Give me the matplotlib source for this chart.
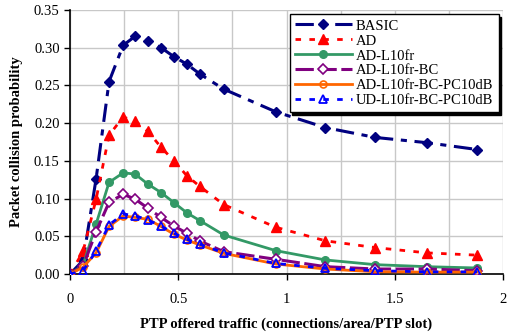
import matplotlib.pyplot as plt
import numpy as np

plt.rcParams['font.family'] = ['Liberation Serif', 'DejaVu Serif']

traffic = [0, 0.06, 0.12, 0.18, 0.245, 0.30, 0.36, 0.42, 0.48, 0.54, 0.60,
           0.71, 0.95, 1.18, 1.41, 1.65, 1.88]

basic = [0, 0.018, 0.126, 0.255, 0.303, 0.315, 0.309, 0.300, 0.288, 0.278,
         0.265, 0.245, 0.215, 0.194, 0.181, 0.174, 0.165]
ad = [0, 0.03, 0.099, 0.184, 0.208, 0.203, 0.189, 0.168, 0.150, 0.130,
      0.116, 0.092, 0.062, 0.044, 0.035, 0.028, 0.025]
ad_l10 = [0, 0.012, 0.066, 0.1215, 0.134, 0.1325, 0.119, 0.108, 0.0945,
          0.081, 0.0707, 0.0517, 0.031, 0.0186, 0.0124, 0.0097, 0.008]
ad_l10_bc = [0, 0.0106, 0.056, 0.095, 0.1056, 0.0994, 0.087, 0.075, 0.0636,
             0.054, 0.0437, 0.0296, 0.0195, 0.0097, 0.0066, 0.0066, 0.0044]
ad_l10_bc_pc = [0, 0.009, 0.028, 0.063, 0.077, 0.075, 0.0725, 0.063, 0.0527,
                0.045, 0.0385, 0.0274, 0.0133, 0.0066, 0.003, 0.0025, 0.0025]
ud_l10_bc_pc = [0, 0.0044, 0.0305, 0.065, 0.0795, 0.0773, 0.0716, 0.0636,
                0.054, 0.046, 0.0394, 0.028, 0.014, 0.0075, 0.0044, 0.0028, 0.0028]

fig = plt.figure(figsize=(5.08, 3.36), dpi=100)
ax = fig.add_axes([0.138, 0.1845, 0.852, 0.786])

ax.plot(traffic, basic, color='#000080', lw=2.2, dashes=(6, 2.5, 2, 2.5),
        marker='D', ms=5.5, label='BASIC', zorder=3)
ax.plot(traffic, ad, color='#FF0000', lw=2, dashes=(2, 3),
        marker='^', ms=6.5, label='AD', zorder=3)
ax.plot(traffic, ad_l10, color='#339966', lw=2, marker='o', ms=5.5,
        label='AD-L10fr', zorder=3)
ax.plot(traffic, ad_l10_bc, color='#800080', lw=2.2, dashes=(6, 1.5),
        marker='D', ms=5, mfc='white', mew=1.2, label='AD-L10fr-BC', zorder=3)
ax.plot(traffic, ad_l10_bc_pc, color='#FF6600', lw=2, marker='o', ms=5,
        mfc='none', mew=1.2, label='AD-L10fr-BC-PC10dB', zorder=3)
ax.plot(traffic, ud_l10_bc_pc, color='#0000FF', lw=2, dashes=(2, 3),
        marker='^', ms=6, mfc='none', mew=1.3, label='UD-L10fr-BC-PC10dB', zorder=4)

ax.set_xlim(0, 2)
ax.set_ylim(0, 0.35)
ax.set_xticks(np.arange(0, 2.01, 0.5))
ax.set_xticklabels(['0', '0.5', '1', '1.5', '2'])
ax.set_xticks(np.arange(0, 2.01, 0.25), minor=True)
ax.set_yticks(np.arange(0, 0.351, 0.05))
ax.set_yticklabels([f'{v:.2f}' for v in np.arange(0, 0.351, 0.05)])
ax.tick_params(axis='x', which='minor', length=0)
ax.tick_params(labelsize=10.5, direction='out', length=4, width=1)
ax.tick_params(axis='x', pad=10)
ax.grid(True, which='both', color='#c8c8c8', lw=1)
ax.set_axisbelow(True)
for s in ['top', 'right']:
    ax.spines[s].set_visible(False)
for s in ['left', 'bottom']:
    ax.spines[s].set_linewidth(1.2)

ax.set_xlabel('PTP offered traffic (connections/area/PTP slot)',
              fontsize=10.5, fontweight='bold', labelpad=8)
ax.set_ylabel('Packet collision probability', fontsize=10.5,
              fontweight='bold', labelpad=8)

leg = ax.legend(loc='upper right', fontsize=10.5, fancybox=False,
                shadow={'color': 'black', 'alpha': 1}, framealpha=1,
                edgecolor='black', borderaxespad=0.3, handlelength=3.9,
                labelspacing=0.12, handletextpad=0.3, borderpad=0.35)
leg.get_frame().set_linewidth(1)

fig.savefig('out.png', dpi=100)
